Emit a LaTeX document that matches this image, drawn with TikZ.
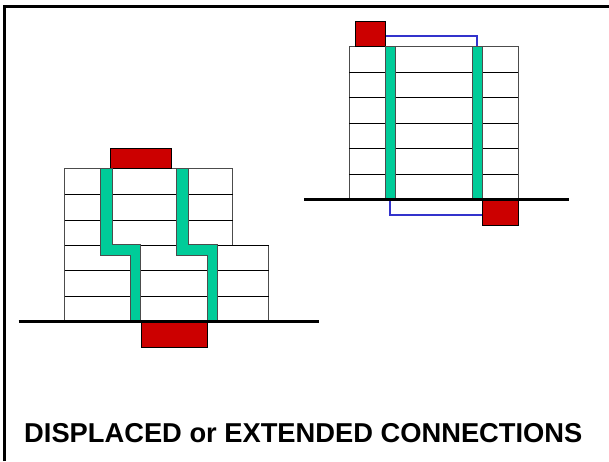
\documentclass[tikz,border=0pt]{standalone}
\usepackage{fontspec}
\setmainfont{Liberation Sans}
\definecolor{redblock}{RGB}{204,0,0}
\definecolor{coregreen}{RGB}{0,204,153}
\definecolor{linkblue}{RGB}{51,51,204}
\tikzset{
  wall/.style={draw=black!70,line width=1pt,fill=white},
  floorline/.style={draw=black,line width=1pt},
  ground/.style={draw=black,line width=3pt},
  footing/.style={draw=black,line width=0.9pt,fill=redblock},
  core/.style={draw=black!70,line width=0.9pt,fill=coregreen},
  link/.style={draw=linkblue,line width=2pt},
  frame/.style={draw=black,line width=3pt}
}
\begin{document}
\begin{tikzpicture}[x=1pt,y=-1pt]
\useasboundingbox (0,0) rectangle (609,461);
\draw[frame] (4.5,461) -- (4.5,6.8) -- (609,6.8);
% left building
\draw[wall] (64.5,321.7) -- (64.5,168.7) -- (232.7,168.7) -- (232.7,245.3) -- (268.5,245.3) -- (268.5,321.7);
\foreach \y in {194.3,220}{\draw[floorline] (64.5,\y) -- (232.7,\y);}
\foreach \y in {245.3,270.7,296}{\draw[floorline] (64.5,\y) -- (268.5,\y);}
\draw[footing] (110.3,148.3) rectangle (171.7,168.7);
\draw[footing] (141,321.7) rectangle (207.7,347.3);
\draw[core] (100.3,168.7) -- (112,168.7) -- (112,244.3) -- (140.3,244.3) -- (140.3,321.7) -- (130.7,321.7) -- (130.7,255.7) -- (100.3,255.7) -- cycle;
\draw[core] (176.7,168.7) -- (188.3,168.7) -- (188.3,244.3) -- (217,244.3) -- (217,321.7) -- (207.3,321.7) -- (207.3,255.7) -- (176.7,255.7) -- cycle;
\draw[ground] (18.7,321.7) -- (319,321.7);
% right building
\draw[wall] (349.3,199.3) rectangle (518.3,46.7);
\foreach \y in {72,97.7,123,148.3,174}{\draw[floorline] (349.3,\y) -- (518.3,\y);}
\draw[link] (385.7,36) -- (477.3,36) -- (477.3,46.7);
\draw[link] (390.3,199.3) -- (390.3,215) -- (482.3,215);
\draw[footing] (355,21.3) rectangle (385.7,46.7);
\draw[footing] (482.3,199.3) rectangle (518,225.3);
\draw[core] (385.7,46.7) rectangle (395.3,199.3);
\draw[core] (472.3,46.7) rectangle (482.3,199.3);
\draw[ground] (304,199.3) -- (569,199.3);
\node[anchor=west,inner sep=0pt,font=\bfseries\fontsize{27.3}{30}\selectfont] (title) at (24,433) {DISPLACED or EXTENDED CONNECTIONS};
\end{tikzpicture}
\end{document}
